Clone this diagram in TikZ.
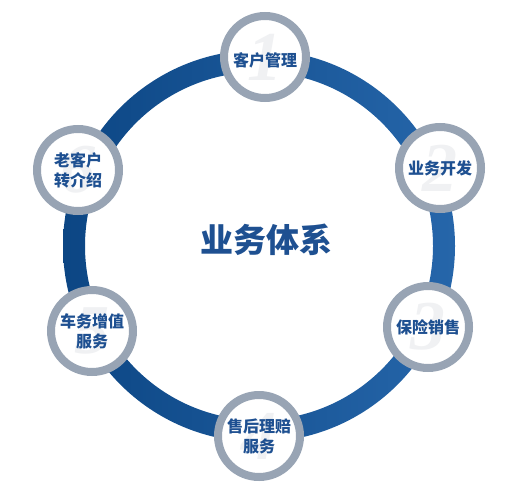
\documentclass[tikz,border=0pt]{standalone}
\usepackage{fontspec}
\usepackage{xcolor}
\usepackage{tikz}
\usetikzlibrary{positioning, shapes, calc}
\newfontfamily\cjk{Noto Sans CJK SC}
\newfontfamily\numfont{Liberation Serif}
\definecolor{ringleft}{RGB}{12,70,132}
\definecolor{ringright}{RGB}{38,102,170}
\definecolor{rimgray}{RGB}{152,164,180}
\definecolor{textblue}{RGB}{30,80,145}
\definecolor{numgray}{RGB}{240,241,243}

\begin{document}
\begin{tikzpicture}[x=1pt, y=-1pt,
	stepcircle/.style={circle, draw=rimgray, line width=8pt, fill=white, minimum size=82pt, inner sep=0pt},
	stepnum/.style={text=numgray, font=\numfont\bfseries\itshape\fontsize{70}{70}\selectfont, inner sep=0pt},
	steptext/.style={text=textblue, align=center, font=\cjk\bfseries\fontsize{16}{20}\selectfont, inner sep=0pt}]
							\useasboundingbox (0,0) rectangle (510,489);
							
							\pgfmathsetmacro{\ringx}{259}
							\pgfmathsetmacro{\ringy}{246}
							\shade[left color=ringleft, right color=ringright, even odd rule] (\ringx,\ringy) circle (196pt) (\ringx,\ringy) circle (174pt);
							
							\node[text=textblue, font=\cjk\bfseries\fontsize{33}{33}\selectfont] (tixi) at (266,240) {业务体系};
							
							%% kehu
							\node[stepcircle] (kehu) at (265,57) {};
							\node[stepnum] (kehu num) at (kehu) {1};
							\node[steptext] (kehu text) at ($(kehu)+(0,3)$) {客户管理};
							
							%% kaifa
							\node[stepcircle] (kaifa) at (440,168) {};
							\node[stepnum] (kaifa num) at (kaifa) {2};
							\node[steptext] (kaifa text) at (kaifa) {业务开发};
							
							%% xiaoshou
							\node[stepcircle] (xiaoshou) at (428,327) {};
							\node[stepnum] (xiaoshou num) at (xiaoshou) {3};
							\node[steptext] (xiaoshou text) at (xiaoshou) {保险销售};
							
							%% lipei
							\node[stepcircle] (lipei) at (259,436) {};
							\node[stepnum] (lipei num) at (lipei) {4};
							\node[steptext] (lipei text) at (lipei) {售后理赔\\服务};
							
							%% zengzhi
							\node[stepcircle] (zengzhi) at (92,331) {};
							\node[stepnum] (zengzhi num) at (zengzhi) {5};
							\node[steptext] (zengzhi text) at (zengzhi) {车务增值\\服务};
							
							%% jieshao
							\node[stepcircle] (jieshao) at (78,170) {};
							\node[stepnum] (jieshao num) at (jieshao) {6};
							\node[steptext] (jieshao text) at (jieshao) {老客户\\转介绍};
\end{tikzpicture}
\end{document}
